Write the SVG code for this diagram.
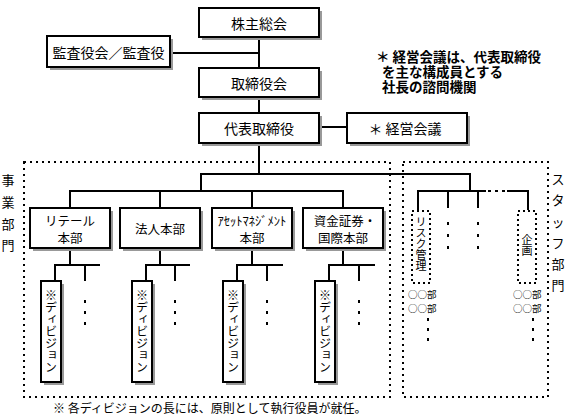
<svg xmlns="http://www.w3.org/2000/svg" width="571" height="420" viewBox="0 0 571 420">
<defs>
<style>
text { font-family: "Noto Sans CJK JP", "DejaVu Sans", sans-serif; fill: #000; }
.t14 { font-size: 14px; text-anchor: middle; dominant-baseline: central; }
.t12 { font-size: 12.5px; text-anchor: middle; dominant-baseline: central; }
.vt { font-size: 12px; writing-mode: vertical-rl; text-anchor: middle; dominant-baseline: central; }
.vs { font-size: 11px; writing-mode: vertical-rl; text-anchor: middle; dominant-baseline: central; }
.box { fill: #fff; stroke: #000; stroke-width: 2; }
.sh { fill: #999; }
.ln { stroke: #000; stroke-width: 2; fill: none; }
.dot { stroke: #000; stroke-width: 2; stroke-dasharray: 2 4; fill: none; }
.dotb { stroke: #000; stroke-width: 2; stroke-dasharray: 2 3; fill: none; }
.pt { fill: #000; }
.note { font-size: 13.5px; font-weight: bold; }
.lbl { font-size: 13px; text-anchor: middle; dominant-baseline: central; }
.small { font-size: 9.5px; dominant-baseline: central; }
.foot { font-size: 12px; dominant-baseline: central; }
</style>
</defs>

<g id="connectors">
  <line class="ln" x1="259" y1="37" x2="259" y2="68"/>
  <line class="ln" x1="170" y1="53" x2="259" y2="53"/>
  <line class="ln" x1="259" y1="97" x2="259" y2="113"/>
  <line class="ln" x1="319" y1="127" x2="347" y2="127"/>
  <line class="ln" x1="259" y1="143" x2="259" y2="174"/>
  <polyline class="ln" points="201,191 201,174 470,174 470,191"/>
  <line class="ln" x1="70" y1="191" x2="343" y2="191"/>
  <line class="ln" x1="70" y1="190" x2="70" y2="208"/>
  <line class="ln" x1="160" y1="190" x2="160" y2="208"/>
  <line class="ln" x1="252" y1="190" x2="252" y2="208"/>
  <line class="ln" x1="343" y1="190" x2="343" y2="208"/>
  <line class="ln" x1="418" y1="191" x2="486" y2="191"/>
  <line class="ln" x1="488" y1="191" x2="505" y2="191" stroke-dasharray="3 4"/>
  <line class="ln" x1="507" y1="191" x2="528" y2="191"/>
  <line class="ln" x1="418" y1="190" x2="418" y2="210"/>
  <line class="ln" x1="448" y1="190" x2="448" y2="208"/>
  <line class="ln" x1="478" y1="190" x2="478" y2="208"/>
  <line class="ln" x1="528" y1="190" x2="528" y2="210"/>
  <line class="ln" x1="70" y1="248" x2="70" y2="265"/>
  <polyline class="ln" points="55,281 55,265 100,265"/>
  <line class="ln" x1="85" y1="265" x2="85" y2="281"/>
  <line class="ln" x1="160" y1="248" x2="160" y2="265"/>
  <polyline class="ln" points="146,281 146,265 190,265"/>
  <line class="ln" x1="175" y1="265" x2="175" y2="281"/>
  <line class="ln" x1="252" y1="248" x2="252" y2="265"/>
  <polyline class="ln" points="237,281 237,265 283,265"/>
  <line class="ln" x1="267" y1="265" x2="267" y2="281"/>
  <line class="ln" x1="343" y1="248" x2="343" y2="265"/>
  <polyline class="ln" points="329,281 329,265 375,265"/>
  <line class="ln" x1="359" y1="265" x2="359" y2="281"/>
</g>

<g id="n-kabunushi">
  <rect class="sh" x="202" y="11" width="120" height="29"/>
  <rect class="box" x="199" y="8" width="120" height="29"/>
  <text class="t14" x="259" y="22.5">株主総会</text>
</g>
<g id="n-kansa">
  <rect class="sh" x="50" y="39" width="123" height="31"/>
  <rect class="box" x="47" y="36" width="123" height="31"/>
  <text class="t14" x="108.5" y="51.5">監査役会／監査役</text>
</g>
<g id="n-torishimari">
  <rect class="sh" x="202" y="71" width="120" height="29"/>
  <rect class="box" x="199" y="68" width="120" height="29"/>
  <text class="t14" x="259" y="82.5">取締役会</text>
</g>
<g id="n-daihyo">
  <rect class="sh" x="202" y="116" width="120" height="30"/>
  <rect class="box" x="199" y="113" width="120" height="30"/>
  <text class="t14" x="259" y="128">代表取締役</text>
</g>
<g id="n-keiei">
  <rect class="sh" x="350" y="116" width="120" height="30"/>
  <rect class="box" x="347" y="113" width="120" height="30"/>
  <text class="t14" x="405" y="128">＊ 経営会議</text>
</g>
<g id="note">
  <text class="note" x="376" y="62">＊ 経営会議は、代表取締役</text>
  <text class="note" x="382" y="77">を主な構成員とする</text>
  <text class="note" x="382" y="92">社長の諮問機関</text>
</g>

<g id="business-area">
  <rect class="dot" x="24" y="162" width="366" height="235"/>
  <text class="lbl" x="8" y="179">事</text>
  <text class="lbl" x="8" y="201">業</text>
  <text class="lbl" x="8" y="223">部</text>
  <text class="lbl" x="8" y="244">門</text>
</g>
<g id="staff-area">
  <rect class="dot" x="403" y="162" width="145" height="235"/>
  <text class="lbl" x="558" y="178">ス</text>
  <text class="lbl" x="558" y="199">タ</text>
  <text class="lbl" x="558" y="221">ッ</text>
  <text class="lbl" x="558" y="242">フ</text>
  <text class="lbl" x="558" y="263">部</text>
  <text class="lbl" x="558" y="284">門</text>
</g>

<g id="n-retail">
  <rect class="sh" x="33" y="211" width="80" height="40"/>
  <rect class="box" x="30" y="208" width="80" height="40"/>
  <text class="t12" x="70" y="220.5">リテール</text>
  <text class="t12" x="70" y="237">本部</text>
</g>
<g id="n-houjin">
  <rect class="sh" x="123" y="211" width="80" height="40"/>
  <rect class="box" x="120" y="208" width="80" height="40"/>
  <text class="t12" x="160" y="228">法人本部</text>
</g>
<g id="n-asset">
  <rect class="sh" x="215" y="211" width="80" height="40"/>
  <rect class="box" x="212" y="208" width="80" height="40"/>
  <text class="t12" x="252" y="220.5">ｱｾｯﾄﾏﾈｼﾞﾒﾝﾄ</text>
  <text class="t12" x="252" y="237">本部</text>
</g>
<g id="n-shikin">
  <rect class="sh" x="306" y="211" width="80" height="40"/>
  <rect class="box" x="303" y="208" width="80" height="40"/>
  <text class="t12" x="345" y="220.5">資金証券・</text>
  <text class="t12" x="343" y="237">国際本部</text>
</g>

<g id="n-div1">
  <rect class="sh" x="44" y="284" width="20" height="101"/>
  <rect class="box" x="41" y="281" width="20" height="101"/>
  <text class="vt" x="51" y="331.5">※ディビジョン</text>
  <rect class="pt" x="84" y="300" width="2" height="3"/>
  <rect class="pt" x="84" y="311" width="2" height="3"/>
  <rect class="pt" x="84" y="322" width="2" height="3"/>
</g>
<g id="n-div2">
  <rect class="sh" x="135" y="284" width="20" height="101"/>
  <rect class="box" x="132" y="281" width="20" height="101"/>
  <text class="vt" x="142" y="331.5">※ディビジョン</text>
  <rect class="pt" x="174" y="300" width="2" height="3"/>
  <rect class="pt" x="174" y="311" width="2" height="3"/>
  <rect class="pt" x="174" y="322" width="2" height="3"/>
</g>
<g id="n-div3">
  <rect class="sh" x="226" y="284" width="20" height="101"/>
  <rect class="box" x="223" y="281" width="20" height="101"/>
  <text class="vt" x="233" y="331.5">※ディビジョン</text>
  <rect class="pt" x="266" y="300" width="2" height="3"/>
  <rect class="pt" x="266" y="311" width="2" height="3"/>
  <rect class="pt" x="266" y="322" width="2" height="3"/>
</g>
<g id="n-div4">
  <rect class="sh" x="318" y="284" width="20" height="101"/>
  <rect class="box" x="315" y="281" width="20" height="101"/>
  <text class="vt" x="325" y="331.5">※ディビジョン</text>
  <rect class="pt" x="358" y="300" width="2" height="3"/>
  <rect class="pt" x="358" y="311" width="2" height="3"/>
  <rect class="pt" x="358" y="322" width="2" height="3"/>
</g>

<g id="n-risk">
  <rect class="dotb" x="412" y="211" width="18" height="72"/>
  <text class="vs" x="421" y="244">リスク管理</text>
  <text class="small" x="408" y="294">○○部</text>
  <text class="small" x="408" y="308">○○部</text>
  <rect class="pt" x="427" y="318" width="2" height="3"/>
  <rect class="pt" x="427" y="328" width="2" height="3"/>
  <rect class="pt" x="427" y="338" width="2" height="3"/>
</g>
<g id="n-staff-mid">
  <rect class="pt" x="447" y="222" width="2" height="3"/>
  <rect class="pt" x="447" y="234" width="2" height="3"/>
  <rect class="pt" x="447" y="246" width="2" height="3"/>
  <rect class="pt" x="477" y="222" width="2" height="3"/>
  <rect class="pt" x="477" y="234" width="2" height="3"/>
  <rect class="pt" x="477" y="246" width="2" height="3"/>
</g>
<g id="n-kikaku">
  <rect class="dotb" x="518" y="211" width="18" height="72"/>
  <text class="vs" x="527" y="245">企画</text>
  <text class="small" x="513" y="294">○○部</text>
  <text class="small" x="513" y="308">○○部</text>
  <rect class="pt" x="532" y="318" width="2" height="3"/>
  <rect class="pt" x="532" y="328" width="2" height="3"/>
  <rect class="pt" x="532" y="338" width="2" height="3"/>
</g>

<g id="footer">
  <text class="foot" x="53" y="407">※ 各ディビジョンの長には、原則として執行役員が就任。</text>
</g>
</svg>
